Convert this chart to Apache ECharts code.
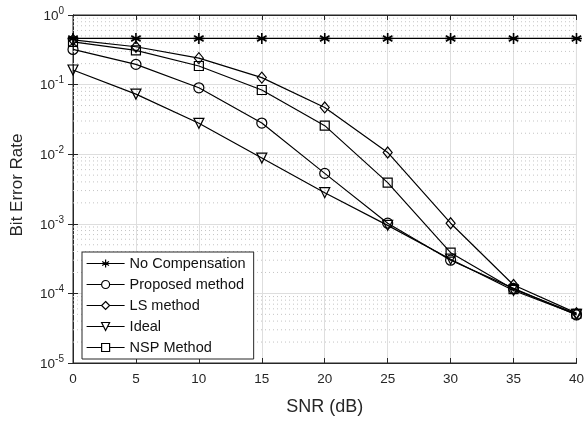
<!DOCTYPE html>
<html>
<head>
<meta charset="utf-8">
<script src="https://cdn.jsdelivr.net/npm/echarts@6/dist/echarts.min.js"></script>
<style>
  html, body { margin: 0; padding: 0; background: #fff; }
  #chart { width: 587px; height: 422px; }
</style>
</head>
<body>
<div id="chart"></div>
<script>
const snr = [0, 5, 10, 15, 20, 25, 30, 35, 40];

const noCompensation = [0.46, 0.46, 0.46, 0.46, 0.46, 0.46, 0.46, 0.46, 0.46];
const proposed = [0.32, 0.195, 0.09, 0.028, 0.0053, 0.00102, 0.0003, 0.000118, 0.000049];
const lsMethod = [0.44, 0.35, 0.24, 0.126, 0.047, 0.0106, 0.00102, 0.000132, 0.000052];
const ideal = [0.162, 0.073, 0.0278, 0.0088, 0.0028, 0.00095, 0.00031, 0.00011, 0.00005];
const nsp = [0.41, 0.31, 0.185, 0.0836, 0.0257, 0.0039, 0.000385, 0.000115, 0.000051];

const seriesNames = ['No Compensation', 'Proposed method', 'LS method', 'Ideal', 'NSP Method'];

const textColor = '#262626';
const font = 'Liberation Sans, Arial, Helvetica, sans-serif';

// asterisk marker, stroke only
const star = 'path://M5,0L5,10M0.7,2.5L9.3,7.5M0.7,7.5L9.3,2.5M0,5L10,5';

// dotted minor grid at 2..9 x 10^k, drawn as one broken line across the plot
const minorGrid = [];
for (let k = -5; k < 0; k++) {
  for (let m = 2; m <= 9; m++) {
    const v = m * Math.pow(10, k);
    minorGrid.push([0, v], [40, v], [40, '-']);
  }
}

function pair(arr) {
  return snr.map((x, i) => [x, arr[i]]);
}

function mk(name, data, symbol, size, extra) {
  return Object.assign({
    name: name,
    type: 'line',
    data: pair(data),
    symbol: symbol,
    symbolSize: size,
    showAllSymbol: true,
    lineStyle: { color: '#000', width: 1.2 },
    itemStyle: { color: 'rgba(255,255,255,0)', borderColor: '#000', borderWidth: 1.2 },
    emphasis: { disabled: true },
    z: 5
  }, extra || {});
}

const chart = echarts.init(document.getElementById('chart'), null, { renderer: 'canvas' });

const supLabel = function (v) {
  const e = Math.round(Math.log10(v));
  return '{b|10}{s|' + e + '}';
};

chart.setOption({
  animation: false,
  backgroundColor: '#fff',
  textStyle: { fontFamily: font, color: textColor },
  grid: {
    left: 73, right: 10, top: 15, bottom: 59,
    show: true, borderColor: textColor, borderWidth: 1, backgroundColor: '#fff'
  },
  legend: {
    orient: 'vertical',
    left: 82, top: 252,
    padding: [4, 8, 4, 4],
    itemWidth: 38,
    itemHeight: 10,
    itemGap: 6,
    backgroundColor: '#fff',
    borderColor: textColor,
    borderWidth: 1,
    borderRadius: 0,
    itemStyle: { color: '#fff', borderColor: '#000', borderWidth: 1.2 },
    lineStyle: { color: '#000', width: 1.2 },
    textStyle: { fontSize: 14.5, color: '#111', fontFamily: font },
    data: seriesNames
  },
  xAxis: [{
    type: 'value', min: 0, max: 40, interval: 5,
    name: 'SNR (dB)', nameLocation: 'middle', nameGap: 35,
    nameTextStyle: { fontSize: 18, color: textColor },
    axisLine: { lineStyle: { color: textColor } },
    axisTick: { inside: true, length: 5, lineStyle: { color: textColor } },
    axisLabel: { fontSize: 13.5, color: textColor, margin: 9 },
    splitLine: { lineStyle: { color: '#dedede', width: 1 } }
  }, {
    type: 'value', min: 0, max: 40, interval: 5, position: 'top',
    axisLine: { lineStyle: { color: textColor } },
    axisTick: { inside: true, length: 5, lineStyle: { color: textColor } },
    axisLabel: { show: false },
    splitLine: { show: false }
  }],
  yAxis: [{
    type: 'log', logBase: 10, min: 1e-5, max: 1,
    name: 'Bit Error Rate', nameLocation: 'middle', nameGap: 47,
    nameTextStyle: { fontSize: 17, color: textColor, padding: [0, 0, 0, 8] },
    axisLine: { lineStyle: { color: textColor } },
    axisTick: { inside: true, length: 5, lineStyle: { color: textColor } },
    axisLabel: {
      margin: 9,
      formatter: supLabel,
      rich: {
        b: { fontSize: 13.5, color: textColor, fontFamily: font, verticalAlign: 'bottom', lineHeight: 16 },
        s: { fontSize: 10, color: textColor, fontFamily: font, verticalAlign: 'bottom', lineHeight: 16, padding: [0, 0, 7, 0] }
      }
    },
    splitLine: { lineStyle: { color: '#dedede', width: 1 } }
  }, {
    type: 'log', logBase: 10, min: 1e-5, max: 1, position: 'right',
    axisLine: { lineStyle: { color: textColor } },
    axisTick: { inside: true, length: 5, lineStyle: { color: textColor } },
    axisLabel: { show: false },
    splitLine: { show: false }
  }],
  series: [
    {
      name: 'minor-grid',
      type: 'line',
      data: minorGrid,
      symbol: 'none',
      silent: true,
      connectNulls: false,
      lineStyle: { color: '#c4c4c4', type: [1, 3], width: 1 },
      z: 1
    },
    mk(seriesNames[0], noCompensation, star, 11, {
      itemStyle: { color: 'rgba(255,255,255,0)', borderColor: '#000', borderWidth: 1.6 }
    }),
    mk(seriesNames[1], proposed, 'circle', 10),
    mk(seriesNames[2], lsMethod, 'diamond', [9, 11]),
    mk(seriesNames[3], ideal, 'triangle', 10, { symbolRotate: 180 }),
    mk(seriesNames[4], nsp, 'rect', 9)
  ]
});
</script>
</body>
</html>
